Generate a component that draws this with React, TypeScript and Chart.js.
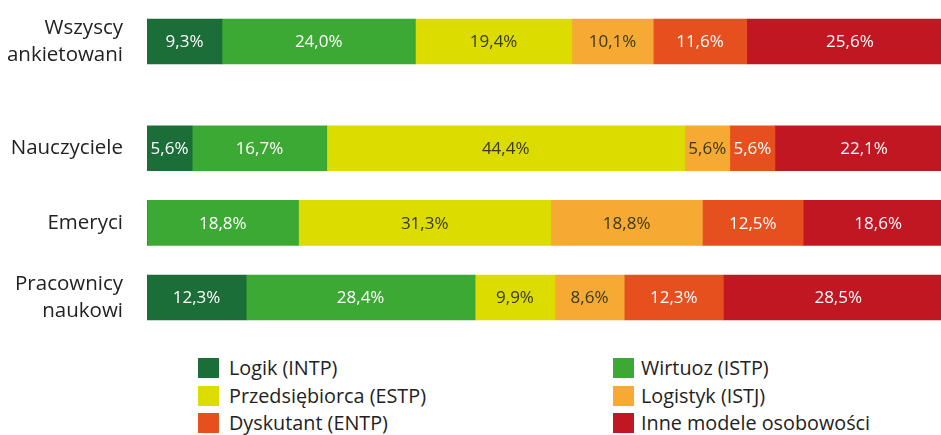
import React, { useEffect, useRef } from "react";
import { Chart, registerables } from "chart.js";

Chart.register(...registerables);

const categories: string[][] = [
  ["Wszyscy", "ankietowani"],
  ["Nauczyciele"],
  ["Emeryci"],
  ["Pracownicy", "naukowi"],
];

const seriesNames = [
  "Logik (INTP)",
  "Wirtuoz (ISTP)",
  "Przedsiębiorca (ESTP)",
  "Logistyk (ISTJ)",
  "Dyskutant (ENTP)",
  "Inne modele osobowości",
];

const logik = [9.3, 5.6, 0, 12.3];
const wirtuoz = [24.0, 16.7, 18.8, 28.4];
const przedsiebiorca = [19.4, 44.4, 31.3, 9.9];
const logistyk = [10.1, 5.6, 18.8, 8.6];
const dyskutant = [11.6, 5.6, 12.5, 12.3];
const inne = [25.6, 22.1, 18.6, 28.5];

const seriesValues = [logik, wirtuoz, przedsiebiorca, logistyk, dyskutant, inne];

// layout (row slots on the index axis, uneven spacing like the reference)
const rowSlots = [0, 1.43, 2.43, 3.43];

const colors = ["#1b6e38", "#3da935", "#dcdc00", "#f6a933", "#e6501f", "#c01722"];
const labelColors = ["#ffffff", "#ffffff", "#3a3a1a", "#3a3a1a", "#ffffff", "#ffffff"];

const FONT = "'Open Sans', 'Noto Sans', sans-serif";

const barLabelPlugin = {
  id: "barLabels",
  afterDatasetsDraw(chart: any) {
    const ctx = chart.ctx;
    ctx.save();
    ctx.font = `17px ${FONT}`;
    ctx.textAlign = "center";
    ctx.textBaseline = "middle";
    chart.data.datasets.forEach((ds: any, di: number) => {
      const meta = chart.getDatasetMeta(di);
      meta.data.forEach((el: any, i: number) => {
        const v = seriesValues[di][i];
        if (!v) return;
        const cx = (el.x + el.base) / 2;
        ctx.fillStyle = labelColors[di];
        ctx.fillText(v.toFixed(1).replace(".", ",") + "%", cx, el.y + 1);
      });
    });
    ctx.restore();
  },
};

const categoryLabelPlugin = {
  id: "categoryLabels",
  afterDraw(chart: any) {
    const ctx = chart.ctx;
    const yScale = chart.scales.y;
    const x = chart.chartArea.left - 24;
    const lh = 27.5;
    ctx.save();
    ctx.font = `20.5px ${FONT}`;
    ctx.fillStyle = "#222222";
    ctx.textAlign = "right";
    ctx.textBaseline = "middle";
    categories.forEach((lines, i) => {
      const cy = yScale.getPixelForValue(rowSlots[i]);
      const start = cy - ((lines.length - 1) * lh) / 2;
      lines.forEach((line, li) => ctx.fillText(line, x, start + li * lh));
    });
    ctx.restore();
  },
};

export default function App() {
  const ref = useRef<HTMLCanvasElement | null>(null);

  useEffect(() => {
    if (!ref.current) return;
    const chart = new Chart(ref.current, {
      type: "bar",
      data: {
        datasets: seriesNames.map((name, di) => ({
          label: name,
          data: seriesValues[di].map((v, i) => ({ x: v, y: rowSlots[i] })),
          backgroundColor: colors[di],
          borderWidth: 0,
          barThickness: 45,
        })),
      },
      options: {
        indexAxis: "y",
        animation: false,
        responsive: true,
        maintainAspectRatio: false,
        layout: { padding: { left: 147, right: 0, top: 0, bottom: 0 } },
        plugins: {
          legend: { display: false },
          tooltip: { enabled: false },
        },
        scales: {
          x: {
            type: "linear",
            stacked: true,
            min: 0,
            max: 98.5,
            display: false,
          },
          y: {
            type: "linear",
            stacked: true,
            reverse: true,
            offset: false,
            min: -0.556,
            max: 4.0,
            display: false,
          },
        },
      } as any,
      plugins: [barLabelPlugin, categoryLabelPlugin],
    });
    return () => chart.destroy();
  }, []);

  const legendCols = [
    { squareX: 198, textX: 229, items: [0, 2, 4] },
    { squareX: 613, textX: 641, items: [1, 3, 5] },
  ];
  const rowCenters = [368, 396, 423];

  return (
    <div
      style={{
        position: "fixed",
        left: 0,
        top: 0,
        width: 941,
        height: 435,
        background: "#ffffff",
        overflow: "hidden",
        fontFamily: FONT,
      }}
    >
      <div style={{ position: "absolute", left: 0, top: 0, width: 941, height: 340 }}>
        <canvas ref={ref} />
      </div>
      {legendCols.map((col, ci) =>
        col.items.map((di, ri) => (
          <React.Fragment key={`${ci}-${ri}`}>
            <div
              style={{
                position: "absolute",
                left: col.squareX,
                top: rowCenters[ri] - 10,
                width: 21,
                height: 20,
                background: colors[di],
              }}
            />
            <div
              style={{
                position: "absolute",
                left: col.textX,
                top: rowCenters[ri] - 14,
                height: 28,
                lineHeight: "28px",
                fontSize: 19.8,
                color: "#222222",
                whiteSpace: "nowrap",
              }}
            >
              {seriesNames[di]}
            </div>
          </React.Fragment>
        ))
      )}
    </div>
  );
}
